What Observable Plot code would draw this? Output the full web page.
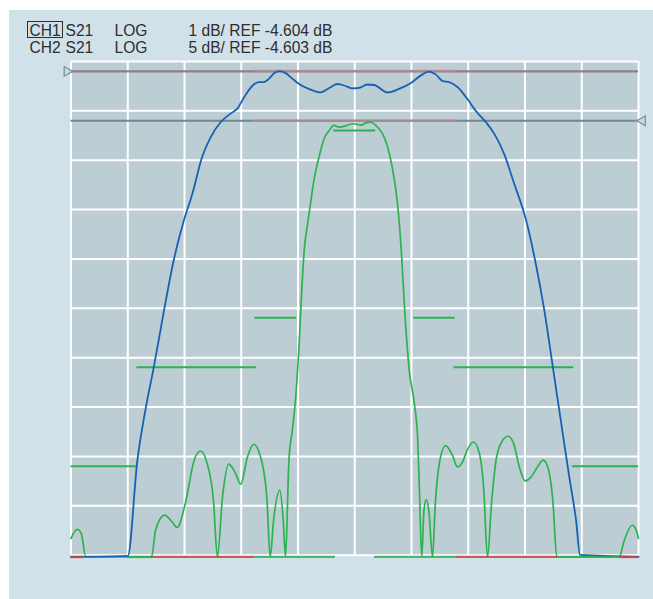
<!DOCTYPE html>
<html>
<head>
<meta charset="utf-8">
<script src="https://cdn.jsdelivr.net/npm/d3@7"></script>
<script src="https://cdn.jsdelivr.net/npm/@observablehq/plot@0.6"></script>
<style>
html, body { margin: 0; padding: 0; background: #ffffff; }
#wrap { position: relative; width: 653px; height: 599px; overflow: hidden; }
#panel { position: absolute; left: 9px; top: 10px; width: 644px; height: 589px; background: #d0e1ea; }
#chart { position: absolute; left: 0; top: 0; }
#header { position: absolute; left: 0; top: 0; }
</style>
</head>
<body>
<div id="wrap">
  <div id="panel"></div>
  <div id="chart"></div>
  <div id="header"></div>
</div>
<script>
// ---------- header / channel settings ----------
const channels = ["CH1", "CH2"];
const params = ["S21", "S21"];
const formats = ["LOG", "LOG"];
const scales = [1, 5];            // dB per division
const refs = [-4.604, -4.603];    // reference value, dB
const refPos = [9.8, 8.8];        // reference line position, divisions from bottom

// ---------- grid ----------
const xDivs = [0, 1, 2, 3, 4, 5, 6, 7, 8, 9, 10];
const yDivs = [0, 1, 2, 3, 4, 5, 6, 7, 8, 9, 10];

// ---------- CH1 S21 (blue), x in divisions, dB ----------
const ch1Freq = [0, 1.00, 1.17, 1.31, 1.46, 1.64, 1.81, 1.99, 2.14, 2.31,
  2.46, 2.64, 2.81, 2.93, 3.05, 3.22, 3.31, 3.40, 3.49, 3.58,
  3.68, 3.78, 3.90, 4.02, 4.19, 4.40, 4.55, 4.69, 4.84, 4.96,
  5.08, 5.22, 5.34, 5.58, 5.78, 5.99, 6.16, 6.31, 6.43, 6.55,
  6.66, 6.81, 6.99, 7.13, 7.31, 7.46, 7.63, 7.81, 8.02, 8.19,
  8.34, 8.49, 8.63, 8.78, 8.90, 8.97, 10];
const ch1Db = [-15, -14.42, -12.48, -11.47, -10.59, -9.44, -8.43, -7.62, -7.08, -6.34,
  -5.94, -5.63, -5.46, -5.36, -5.13, -4.87, -4.82, -4.82, -4.75, -4.64,
  -4.60, -4.64, -4.75, -4.86, -4.96, -5.03, -4.94, -4.86, -4.90, -4.95,
  -4.94, -4.87, -4.88, -5.03, -4.96, -4.84, -4.69, -4.61, -4.67, -4.80,
  -4.82, -4.92, -5.17, -5.40, -5.63, -5.87, -6.27, -6.88, -7.62, -8.50,
  -9.44, -10.59, -11.67, -12.82, -13.70, -14.40, -15];

// ---------- CH2 S21 (green) ----------
const ch2Freq = [0, 0.11, 0.18, 0.26, 1.42, 1.49, 1.65, 1.78, 1.87, 2.02,
  2.17, 2.28, 2.40, 2.51, 2.58, 2.67, 2.78, 2.90, 2.99, 3.11,
  3.22, 3.34, 3.45, 3.51, 3.57, 3.68, 3.74, 3.78, 3.84, 3.90,
  3.96, 4.02, 4.06, 4.11, 4.17, 4.22, 4.28, 4.37, 4.46, 4.55,
  4.63, 4.72, 4.81, 4.90, 4.99, 5.11, 5.19, 5.28, 5.37, 5.49,
  5.58, 5.66, 5.76, 5.82, 5.88, 5.96, 6.05, 6.11, 6.14, 6.18,
  6.22, 6.26, 6.31, 6.37, 6.42, 6.49, 6.60, 6.72, 6.81, 6.90,
  6.98, 7.09, 7.19, 7.27, 7.34, 7.41, 7.50, 7.63, 7.70, 7.80,
  7.90, 8.00, 8.10, 8.22, 8.32, 8.40, 8.49, 8.56, 9.66, 9.75,
  9.89, 9.96, 10.00];
const ch2Db = [-46.91, -46.00, -46.40, -50, -50, -46.07, -44.55, -45.23, -45.80, -43.21,
  -38.98, -38.05, -39.32, -43.04, -50, -42.70, -39.39, -40.33, -41.42, -38.65,
  -37.37, -38.65, -42.70, -50, -45.06, -42.02, -45.06, -50, -38.98, -35.95,
  -32.58, -27.18, -22.46, -17.73, -15.03, -13.00, -10.65, -8.29, -6.43, -5.59,
  -5.08, -5.25, -5.18, -4.98, -4.91, -5.05, -4.85, -4.75, -5.08, -5.92,
  -7.28, -9.30, -13.35, -17.73, -23.81, -29.88, -33.25, -36.96, -42.02, -50,
  -44.05, -42.97, -44.38, -50, -43.37, -39.32, -37.50, -38.48, -39.67, -39.16,
  -37.98, -37.14, -38.15, -41.69, -50, -43.37, -38.65, -36.79, -36.56, -37.30,
  -39.67, -41.08, -40.74, -39.67, -38.98, -39.67, -43.04, -50, -50, -47.09,
  -45.57, -46.07, -46.91];

// ---------- CH2 limit lines (green) ----------
const limitStart = [0, 1.16, 3.24, 4.63, 6.04, 6.75, 8.84];
const limitEnd = [1.17, 3.27, 3.98, 5.37, 6.77, 8.86, 10];
const limitDb = [-39.6, -29.57, -24.56, -5.59, -24.56, -29.57, -39.6];

// ---------- off-scale limit segments drawn on the bottom edge ----------
const bottomStart = [0, 1.00, 1.42, 3.24, 5.35, 6.78, 8.58, 9.67];
const bottomEnd = [0.22, 1.42, 3.24, 4.66, 6.78, 8.58, 9.67, 10];
const bottomChannel = [0, 1, 0, 1, 1, 0, 1, 0];
const bottomDb = [-20, -60, -20, -60, -60, -20, -60, -20];

// ---------- reference-line highlight span ----------
const refSpanStart = 3.22;
const refSpanEnd = 6.80;

// ---------- build ----------
const toDiv = (db, ch) => refPos[ch] + (db - refs[ch]) / scales[ch];
const trace1 = ch1Freq.map((f, i) => ({f, v: toDiv(ch1Db[i], 0)}));
const trace2 = ch2Freq.map((f, i) => ({f, v: toDiv(ch2Db[i], 1)}));
const limits = limitStart.map((s, i) => ({x1: s, x2: limitEnd[i], v: toDiv(limitDb[i], 1)}));
const bottoms = bottomStart.map((s, i) => ({x1: s, x2: bottomEnd[i], ch: bottomChannel[i], v: toDiv(bottomDb[i], bottomChannel[i])}));
const refLines = refPos.map((p, i) => ({ch: i, v: p}));

const BLUE = "#1662b2", GREEN = "#2bb350", RED = "#c8423e";
const W = 653, H = 599;
const yMin = -0.035;

const chart = Plot.plot({
  width: W, height: H,
  marginLeft: 70.5, marginRight: 15, marginTop: 61, marginBottom: H - 556.4,
  style: {background: "transparent", overflow: "visible"},
  x: {domain: [0, 10], axis: null},
  y: {domain: [yMin, 10], axis: null, clamp: true},
  marks: [
    Plot.rect([{}], {x1: 0, x2: 10, y1: 0, y2: 10, fill: "#bccdd4"}),
    Plot.ruleX(xDivs, {x: d => d, y1: 0, y2: 10, stroke: "#ffffff", strokeWidth: 2}),
    Plot.ruleY(yDivs, {y: d => d, x1: 0, x2: 10, stroke: "#ffffff", strokeWidth: 2}),
    Plot.ruleY(refLines, {y: "v", x1: 0, x2: 10, stroke: d => d.ch === 0 ? "#8e7e89" : "#6f8a95", strokeWidth: 2.2}),
    Plot.ruleY(refLines, {y: "v", x1: refSpanStart, x2: refSpanEnd, stroke: "#c98b93", strokeOpacity: 0.6, strokeWidth: 2, dy: -0.6}),
    Plot.dot(refLines.filter(d => d.ch === 0), {x: 0, y: "v", symbol: "triangle", rotate: 90,
      dx: -4, r: 3.6, stroke: "#7d959f", fill: "#c9dce5", strokeWidth: 1.3}),
    Plot.dot(refLines.filter(d => d.ch === 1), {x: 10, y: "v", symbol: "triangle", rotate: -90,
      dx: 4, r: 3.6, stroke: "#7d959f", fill: "#c9dce5", strokeWidth: 1.3}),
    Plot.ruleY(limits, {y: "v", x1: "x1", x2: "x2", stroke: GREEN, strokeWidth: 2}),
    Plot.line(trace2, {x: "f", y: "v", stroke: GREEN, strokeWidth: 1.7, curve: "monotone-x"}),
    Plot.line(trace1, {x: "f", y: "v", stroke: BLUE, strokeWidth: 1.8, curve: "monotone-x"}),
    Plot.ruleY(bottoms, {y: "v", x1: "x1", x2: "x2", stroke: d => d.ch === 0 ? RED : GREEN, strokeOpacity: 0.85, strokeWidth: 2.4})
  ]
});
document.getElementById("chart").appendChild(chart);

// ---------- header text ----------
const hdr = d3.create("svg").attr("width", W).attr("height", 60)
  .style("font-family", "'Liberation Sans', Arial, sans-serif").style("font-size", "15.6px").style("fill", "#2e2e2e");
const baselines = [35.8, 52.8];
channels.forEach((c, i) => {
  const g = hdr.append("g");
  g.append("text").attr("x", 29.5).attr("y", baselines[i]).text(c);
  g.append("text").attr("x", 65.5).attr("y", baselines[i]).text(params[i]);
  g.append("text").attr("x", 114.5).attr("y", baselines[i]).text(formats[i]);
  g.append("text").attr("x", 188.5).attr("y", baselines[i]).text(`${scales[i]} dB/ REF ${refs[i].toFixed(3)} dB`);
});
hdr.append("rect").attr("x", 27.5).attr("y", 21.5).attr("width", 35).attr("height", 16)
  .attr("fill", "none").attr("stroke", "#2e2e2e").attr("stroke-width", 1);
document.getElementById("header").appendChild(hdr.node());
</script>
</body>
</html>
